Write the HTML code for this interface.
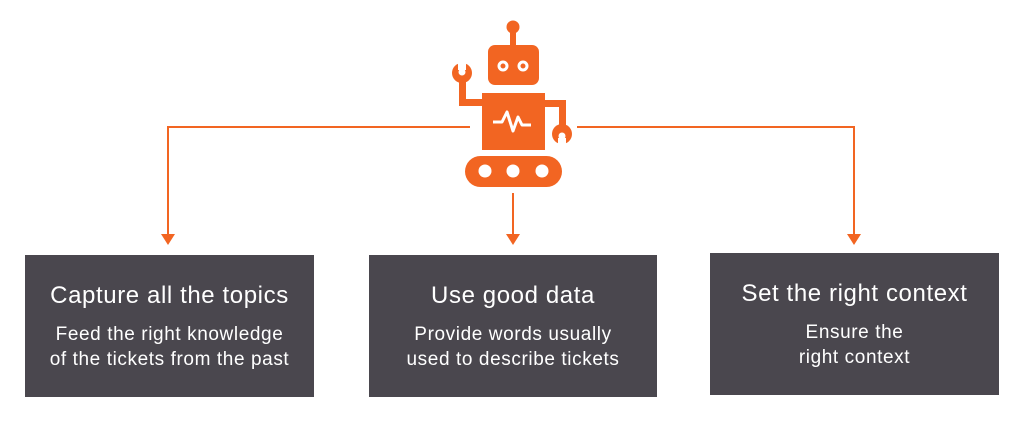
<!DOCTYPE html>
<html><head><style>
body{margin:0;width:1024px;height:421px;background:#fff;overflow:hidden;position:relative;font-family:"Liberation Sans",sans-serif}
.box{position:absolute;background:#4a474e;color:#fff;text-align:center}
.t{position:absolute;left:-20px;right:-20px;font-size:24px;letter-spacing:0.6px;top:27px}
.s{position:absolute;left:-20px;right:-20px;font-size:19px;letter-spacing:0.6px;line-height:25px;top:67px}
</style></head><body>
<svg width="1024" height="421" style="position:absolute;left:0;top:0">
<g stroke="#f26522" stroke-width="2" fill="none">
<path d="M470 127H168V236"/><path d="M577 127H854V236"/><path d="M513 193V236"/>
</g>
<g fill="#f26522">
<path d="M161 234h14l-7 11z"/><path d="M506 234h14l-7 11z"/><path d="M847 234h14l-7 11z"/>
<circle cx="513" cy="27" r="6.5"/><rect x="510" y="27" width="6" height="20"/>
<rect x="488" y="45" width="51" height="40" rx="7"/>
<rect x="482" y="93" width="63" height="57"/>
<rect x="465" y="156" width="97" height="31" rx="15.5"/>
<path d="M482 106H459V75h7V99h16z"/>
<circle cx="462" cy="73" r="10"/>
<path d="M545 100H566V128h-7V107h-14z"/>
<circle cx="562" cy="134" r="10"/>
</g>
<g fill="#fff">
<rect x="458" y="60" width="8" height="10"/><circle cx="462" cy="72" r="3.5"/>
<rect x="558" y="138" width="8" height="12"/><circle cx="562" cy="136" r="3.5"/>
<circle cx="485" cy="171" r="6.5"/><circle cx="513" cy="171" r="6.5"/><circle cx="542" cy="171" r="6.5"/>
</g>
<g fill="none" stroke="#fff" stroke-width="3">
<circle cx="503" cy="66" r="4"/><circle cx="523" cy="66" r="4"/>
<path d="M493 122h9l5-10 6 19 5-14 4 8h9" stroke-linejoin="round"/>
</g>
</svg>
<div class="box" style="left:25px;top:255px;width:289px;height:142px"><div class="t">Capture all the topics</div><div class="s">Feed the right knowledge<br>of the tickets from the past</div></div>
<div class="box" style="left:369px;top:255px;width:288px;height:142px"><div class="t">Use good data</div><div class="s">Provide words usually<br>used to describe tickets</div></div>
<div class="box" style="left:710px;top:253px;width:289px;height:142px"><div class="t">Set the right context</div><div class="s">Ensure the<br>right context</div></div>
</body></html>
